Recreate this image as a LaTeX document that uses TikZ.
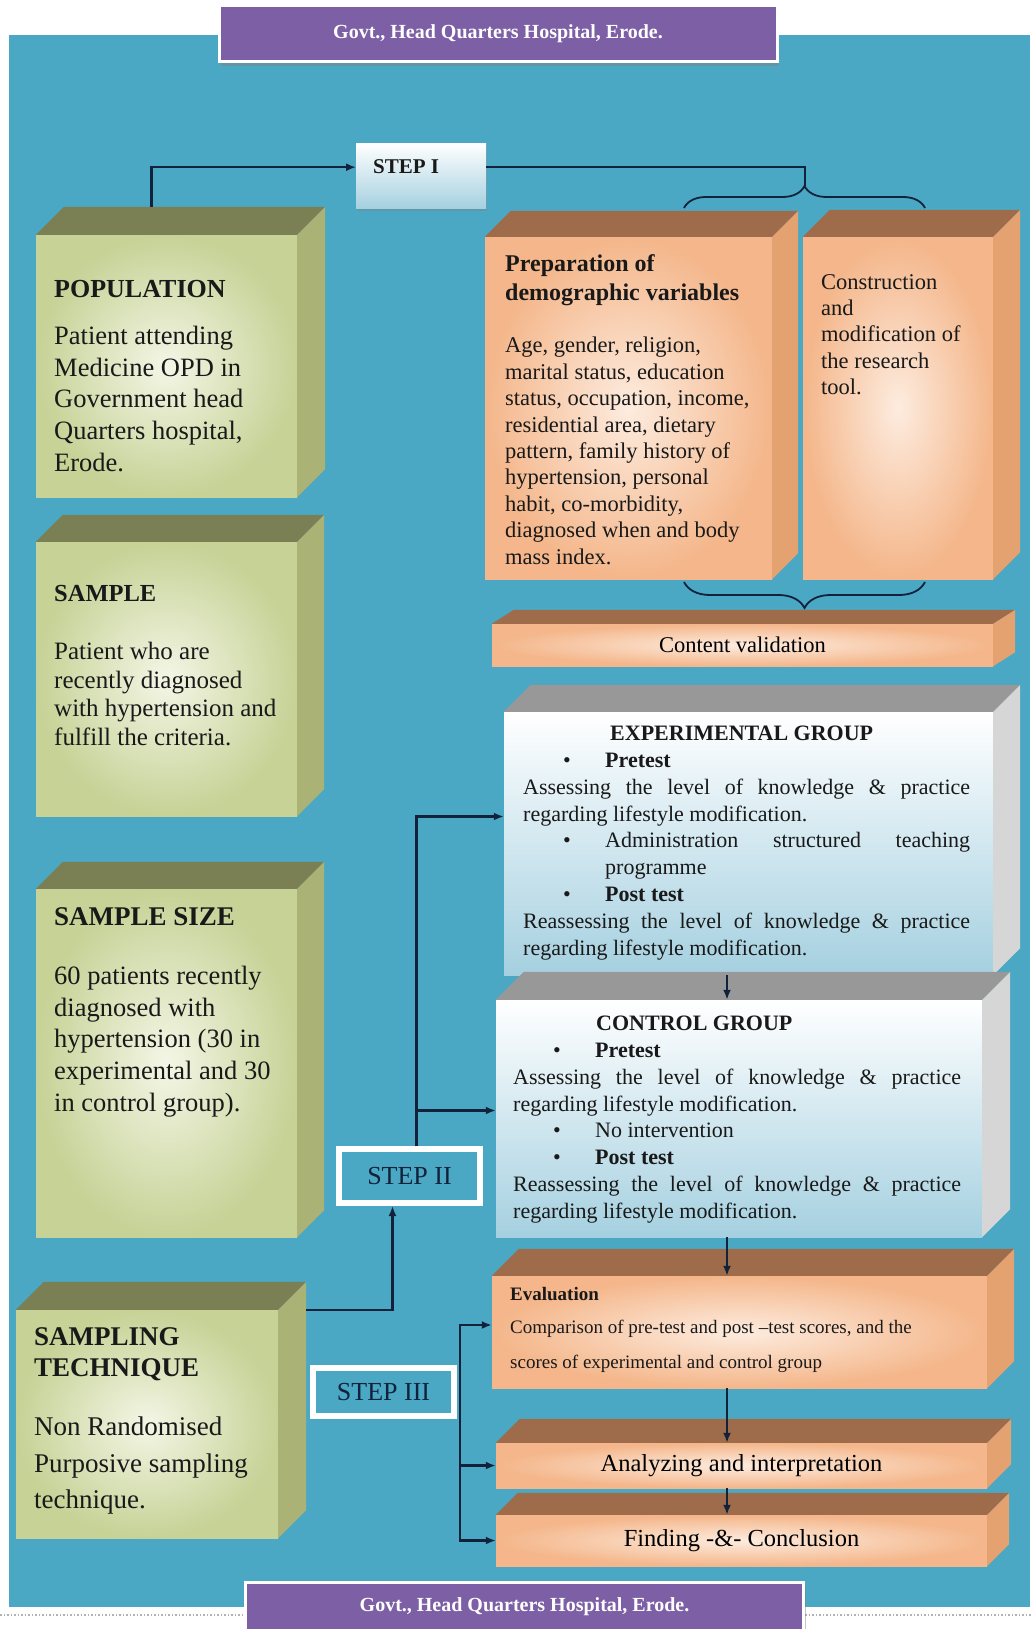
\documentclass[tikz,border=0pt]{standalone}
\usepackage{fontspec}
\setmainfont{Liberation Serif}
\usepackage{tikz}
\usetikzlibrary{arrows.meta,decorations.pathreplacing,shadows}

\definecolor{panel}{RGB}{74,168,197}
\definecolor{navy}{RGB}{18,34,58}
\definecolor{banner}{RGB}{124,95,165}
\definecolor{greenlight}{RGB}{244,246,230}
\definecolor{greendark}{RGB}{198,210,150}
\definecolor{greentopc}{RGB}{122,128,84}
\definecolor{greensidec}{RGB}{170,178,118}
\definecolor{orangelight}{RGB}{253,236,223}
\definecolor{orangedark}{RGB}{244,182,138}
\definecolor{orangetopc}{RGB}{158,108,74}
\definecolor{orangesidec}{RGB}{228,162,112}
\definecolor{bluelow}{RGB}{165,208,224}
\definecolor{bluetopc}{RGB}{152,152,152}
\definecolor{bluesidec}{RGB}{214,214,214}

\tikzset{
  link/.style={draw=navy, line width=2.4pt},
  arrow/.style={link, -{Latex[length=10pt,width=8pt]}},
  curly/.style={draw=navy, line width=1.8pt, decorate, decoration={brace, amplitude=#1}},
  txt/.style={inner sep=0pt, align=left, text=black!90},
  greenfront/.style={rectangle, inner sep=0pt, inner color=greenlight, outer color=greendark},
  greentop/.style={fill=greentopc},
  greenside/.style={fill=greensidec},
  orangefront/.style={rectangle, inner sep=0pt, inner color=orangelight, outer color=orangedark},
  orangetop/.style={fill=orangetopc},
  orangeside/.style={fill=orangesidec},
  bluefront/.style={rectangle, inner sep=0pt, top color=white, bottom color=bluelow},
  bluetop/.style={fill=bluetopc},
  blueside/.style={fill=bluesidec},
  headbar/.style={rectangle, fill=banner, draw=white, line width=3pt, text=white,
    font=\bfseries\fontsize{20}{24}\selectfont,
    drop shadow={shadow xshift=2pt, shadow yshift=-4pt, opacity=0.45}},
  stepframe/.style={rectangle, fill=panel, draw=white, line width=6pt,
    font=\fontsize{26}{30}\selectfont, text=navy},
}

% top and side faces of a solid box
\newcommand{\solid}[4]{%
  \fill[#2top] (#1.north west) -- ++(#3,-#4) -- ([shift={(#3,-#4)}]#1.north east) -- (#1.north east) -- cycle;
  \fill[#2side] (#1.north east) -- ++(#3,-#4) -- ([shift={(#3,-#4)}]#1.south east) -- (#1.south east) -- cycle;
}
\newcommand{\bul}{\makebox[82pt][l]{\hspace{40pt}\textbullet}}
\newcommand{\spread}[2]{\makebox[#1][s]{#2}}

\begin{document}
\begin{tikzpicture}[x=1pt, y=-1pt]
  \useasboundingbox (0,0) rectangle (1031,1629);
  \fill[white] (0,0) rectangle (1031,1629);
  \fill[panel] (9,35) rectangle (1030,1607);
  \draw[gray!60, dotted, line width=1.5pt] (0,1615) -- (1031,1615);

  % banners
  \node[headbar, minimum width=558, minimum height=56] (headtop) at (498,34) {Govt., Head Quarters Hospital, Erode.};

  % left column
  \node[greenfront, minimum width=261, minimum height=262] (pop) at (166.5,366) {};
  \solid{pop}{green}{28}{28}
  \node[txt, anchor=west, font=\bfseries\fontsize{26}{30}\selectfont] (poptitle) at (54,289) {POPULATION};
  \node[txt, anchor=north west, font=\fontsize{26.5}{31.7}\selectfont] (poptext) at (54,326) {Patient attending\\ Medicine OPD in\\ Government head\\ Quarters hospital,\\ Erode.};

  \node[greenfront, minimum width=261, minimum height=274] (sample) at (166.5,679) {};
  \solid{sample}{green}{27}{27}
  \node[txt, anchor=west, font=\bfseries\fontsize{24.5}{29}\selectfont] (sampletitle) at (54,594) {SAMPLE};
  \node[txt, anchor=north west, font=\fontsize{25}{28.7}\selectfont] (sampletext) at (54,642) {Patient who are\\ recently diagnosed\\ with hypertension and\\ fulfill the criteria.};

  \node[greenfront, minimum width=261, minimum height=348] (size) at (166.5,1063) {};
  \solid{size}{green}{27}{27}
  \node[txt, anchor=west, font=\bfseries\fontsize{27}{31}\selectfont] (sizetitle) at (54,917) {SAMPLE SIZE};
  \node[txt, anchor=north west, font=\fontsize{26.5}{31.7}\selectfont] (sizetext) at (54,966) {60 patients recently\\ diagnosed with\\ hypertension (30 in\\ experimental and 30\\ in control group).};

  \node[greenfront, minimum width=262, minimum height=228] (tech) at (147,1424) {};
  \solid{tech}{green}{28}{28}
  \node[txt, anchor=north west, font=\bfseries\fontsize{27}{31}\selectfont] (techtitle) at (34,1327) {SAMPLING\\ TECHNIQUE};
  \node[txt, anchor=north west, font=\fontsize{27}{36.5}\selectfont] (techtext) at (34,1417) {Non Randomised\\ Purposive sampling\\ technique.};

  % step I
  \node[rectangle, top color=white, bottom color=bluelow, minimum width=130, minimum height=65,
    anchor=north west, drop shadow={shadow xshift=1pt, shadow yshift=-3pt, opacity=0.4}] (step1) at (356,143) {};
  \node[txt, anchor=west, font=\bfseries\fontsize{21}{25}\selectfont] (step1text) at (373,167) {STEP I};

  \node[orangefront, minimum width=287, minimum height=342] (prep) at (628.5,408) {};
  \solid{prep}{orange}{26}{26}
  \node[txt, anchor=north west, font=\bfseries\fontsize{24}{29}\selectfont] (preptitle) at (505,254) {Preparation of\\ demographic variables};
  \node[txt, anchor=north west, font=\fontsize{22.5}{26.4}\selectfont] (preptext) at (505,337) {Age, gender, religion,\\ marital status, education\\ status, occupation, income,\\ residential area, dietary\\ pattern, family history of\\ hypertension, personal\\ habit, co-morbidity,\\ diagnosed when and body\\ mass index.};

  \node[orangefront, minimum width=190, minimum height=342] (cons) at (898,408) {};
  \solid{cons}{orange}{27}{27}
  \node[txt, anchor=north west, font=\fontsize{22.5}{26.4}\selectfont] (constext) at (821,274) {Construction\\ and\\ modification of\\ the research\\ tool.};

  \coordinate (upl) at (684,208);
  \coordinate (upr) at (925,208);
  \coordinate (bracetip) at (805,186);
  \coordinate (lowl) at (684,582);
  \coordinate (lowr) at (925,582);
  \draw[curly=22pt] (upl) -- (upr);
  \draw[curly=26pt] (lowr) -- (lowl);

  \node[orangefront, minimum width=501, minimum height=42, font=\fontsize{22.5}{26}\selectfont] (cval) at (742.5,645) {Content validation};
  \solid{cval}{orange}{22}{14}

  % step II
  \node[bluefront, minimum width=489, minimum height=263] (exp) at (748.5,843.5) {};
  \solid{exp}{blue}{27}{27}
  \node[txt, anchor=north west, font=\fontsize{22}{26.8}\selectfont] (exptext) at (523,726) {%
    \hspace*{87pt}{\bfseries EXPERIMENTAL GROUP}\\
    \bul{\bfseries Pretest}\\
    \spread{447pt}{Assessing the level of knowledge \& practice}\\
    regarding lifestyle modification.\\
    \bul\spread{365pt}{Administration structured teaching}\\
    \hspace*{82pt}programme\\
    \bul{\bfseries Post test}\\
    \spread{447pt}{Reassessing the level of knowledge \& practice}\\
    regarding lifestyle modification.};

  \node[bluefront, minimum width=486, minimum height=237] (ctrl) at (739,1118.5) {};
  \solid{ctrl}{blue}{28}{28}
  \node[txt, anchor=north west, font=\fontsize{22}{26.8}\selectfont] (ctrltext) at (513,1016) {%
    \hspace*{83pt}{\bfseries CONTROL GROUP}\\
    \bul{\bfseries Pretest}\\
    \spread{448pt}{Assessing the level of knowledge \& practice}\\
    regarding lifestyle modification.\\
    \bul No intervention\\
    \bul{\bfseries Post test}\\
    \spread{448pt}{Reassessing the level of knowledge \& practice}\\
    regarding lifestyle modification.};

  \node[stepframe, minimum width=141, minimum height=54] (step2) at (409.5,1176) {STEP II};

  % step III
  \node[orangefront, minimum width=495, minimum height=112] (eval) at (739.5,1332) {};
  \solid{eval}{orange}{27}{27}
  \node[txt, anchor=west, font=\bfseries\fontsize{19}{23}\selectfont] (evaltitle) at (510,1294) {Evaluation};
  \node[txt, anchor=north west, font=\fontsize{19}{35}\selectfont] (evaltext) at (510,1320) {Comparison of pre-test and post --test scores, and the\\ scores of experimental and control group};

  \node[orangefront, minimum width=491, minimum height=45, font=\fontsize{24.5}{28}\selectfont] (ana) at (741.5,1465.5) {Analyzing and interpretation};
  \solid{ana}{orange}{24}{24}
  \node[orangefront, minimum width=491, minimum height=51, font=\fontsize{24.5}{28}\selectfont] (fin) at (741.5,1540.5) {Finding -\&- Conclusion};
  \solid{fin}{orange}{22}{22}

  \node[stepframe, minimum width=141, minimum height=48] (step3) at (383.5,1392) {STEP III};

  \node[headbar, minimum width=558, minimum height=50] (headbottom) at (524.5,1607) {Govt., Head Quarters Hospital, Erode.};

  % connectors
  \draw[arrow] ([xshift=-15pt, yshift=28pt]pop.north) |- ([yshift=8.5pt]step1.west);
  \draw[link] ([yshift=8.5pt]step1.east) -| (bracetip);
  \draw[arrow] ([xshift=28pt]tech.north east) -| ([xshift=-17pt]step2.south);
  \draw[arrow] ([xshift=7pt]step2.north) |- ([yshift=27pt]exp.west);
  \draw[arrow] ([xshift=7pt]step2.north) |- ([yshift=8pt]ctrl.west);
  \coordinate (spine) at (727,0);
  \draw[arrow] (exp.south -| spine) -- (ctrl.north -| spine);
  \draw[arrow] (ctrl.south -| spine) -- (eval.north -| spine);
  \draw[arrow] (eval.south -| spine) -- (ana.north -| spine);
  \draw[arrow] (ana.south -| spine) -- (fin.north -| spine);
  \draw[arrow] ([xshift=3pt]step3.east) |- ([yshift=7pt]eval.west);
  \draw[arrow] ([xshift=3pt]step3.east) |- (ana.west);
  \draw[arrow] ([xshift=3pt]step3.east) |- (fin.west);
\end{tikzpicture}
\end{document}
